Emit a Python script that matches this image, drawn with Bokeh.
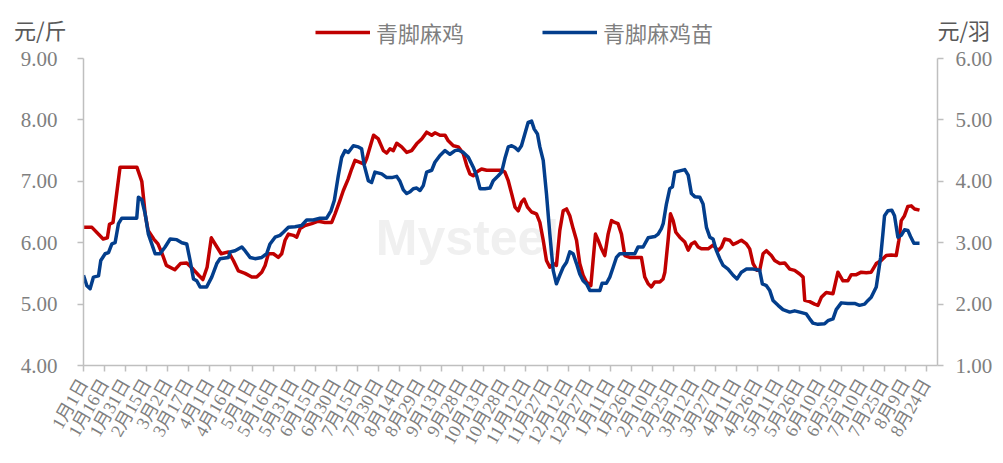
import math
from bokeh.plotting import figure
from bokeh.layouts import column
from bokeh.models import (Range1d, LinearAxis, FixedTicker, Legend, LegendItem,
                          Label, NumeralTickFormatter, ColumnDataSource)
from bokeh.embed import file_html
from bokeh.resources import INLINE

# ---------------- data ----------------
tick_labels = ["1月1日", "1月16日", "1月31日", "2月15日", "3月2日", "3月17日", "4月1日",
               "4月16日", "5月1日", "5月16日", "5月31日", "6月15日", "6月30日", "7月15日",
               "7月30日", "8月14日", "8月29日", "9月13日", "9月28日", "10月13日", "10月28日",
               "11月12日", "11月27日", "12月12日", "12月27日", "1月11日", "1月26日", "2月10日",
               "2月25日", "3月12日", "3月27日", "4月11日", "4月26日", "5月11日", "5月26日",
               "6月10日", "6月25日", "7月10日", "7月25日", "8月9日", "8月24日"]
tick_step = 15  # days between labels

series_names = ["青脚麻鸡", "青脚麻鸡苗"]

# 青脚麻鸡 (元/斤), day index since 1月1日
red_days = [0, 6, 14, 17, 18.5, 21, 26, 38, 41.5, 44, 46, 50, 53, 56, 59, 65, 69, 73.5, 78,
            82, 85, 88, 91, 95, 98, 103.2, 106.7, 110.3, 115, 119.8, 123.3, 126.9, 129.3,
            131.6, 135.2, 138.7, 141.1, 143.5, 145.9, 149.4, 151.8, 154.2, 157.7, 162.5,
            167.2, 171.9, 176.7, 179.1, 182.6, 185, 188.5, 190.9, 193.3, 196.8, 199.9, 201.6,
            204, 206.5, 209.9, 213.5, 215.9, 218.2, 220.6, 223, 226.5, 230.1, 233.6, 237.2,
            240.8, 244.3, 247.9, 250.2, 253.8, 257.4, 259.7, 263.3, 266.8, 270.4, 272.8,
            275.1, 277.5, 279.9, 283.4, 287, 291.7, 297.7, 300, 302.4, 304.8, 307.2, 309.5,
            311.8, 313.7, 316.1, 319, 322.5, 324.9, 327.3, 329.6, 332, 334.4, 336.7, 339.1,
            341.5, 343.9, 346.2, 348.6, 351, 353.3, 355.7, 358.1, 361.2, 362.8, 364.5, 366.4,
            368.8, 371.1, 373.5, 375.9, 378.2, 380.6, 383, 385.4, 388.9, 393.7, 397.2, 399.6,
            402, 404.3, 406.7, 410.3, 412.6, 413.9, 416.2, 417.9, 419.8, 421.7, 424.5, 428.1,
            430.5, 432.8, 435.2, 437.6, 439.9, 444.7, 448.2, 451.8, 454.2, 456.5, 460.1,
            462.5, 466, 468.4, 472, 474.3, 476.7, 479.5, 481.4, 483.8, 486.2, 489.7, 492.1,
            495.7, 499.2, 502.8, 506.3, 509.9, 512.3, 513.5, 517, 520.5, 522.9, 525.3, 528.8,
            533.6, 537.1, 540.7, 544.2, 546.6, 550.2, 553.7, 557.3, 560.8, 564.4, 567.9,
            571.5, 575.1, 578.6, 580.5, 582.2, 584.5, 586.9, 589.3, 591.7, 595.2]
red_price = [6.25, 6.25, 6.06, 6.08, 6.30, 6.33, 7.23, 7.23, 7.00, 6.45, 6.20, 6.06, 5.98, 5.82,
             5.63, 5.56, 5.66, 5.67, 5.57, 5.47, 5.40, 5.60, 6.08, 5.93, 5.82, 5.85, 5.71,
             5.54, 5.50, 5.44, 5.44, 5.52, 5.63, 5.82, 5.82, 5.76, 5.82, 6.04, 6.14, 6.12,
             6.09, 6.23, 6.28, 6.31, 6.35, 6.33, 6.33, 6.47, 6.69, 6.85, 7.04, 7.20, 7.34,
             7.31, 7.28, 7.37, 7.56, 7.75, 7.69, 7.50, 7.46, 7.53, 7.50, 7.62, 7.56, 7.47,
             7.50, 7.61, 7.69, 7.80, 7.75, 7.79, 7.75, 7.75, 7.66, 7.58, 7.56, 7.45, 7.26,
             7.12, 7.09, 7.15, 7.20, 7.18, 7.18, 7.18, 7.15, 7.01, 6.80, 6.58, 6.52, 6.66,
             6.71, 6.58, 6.50, 6.47, 6.33, 6.04, 5.71, 5.60, 5.66, 5.63, 6.20, 6.52, 6.55,
             6.44, 6.23, 6.04, 5.66, 5.47, 5.36, 5.30, 5.71, 6.14, 6.04, 5.90, 5.79, 6.14,
             6.36, 6.33, 6.31, 6.14, 5.79, 5.76, 5.76, 5.76, 5.44, 5.33, 5.28, 5.36, 5.36,
             5.41, 5.52, 6.04, 6.47, 6.36, 6.17, 6.09, 6.01, 5.88, 5.98, 6.01, 5.93, 5.90,
             5.90, 5.96, 5.87, 5.93, 6.06, 6.04, 5.97, 6.01, 6.04, 5.98, 5.90, 5.66, 5.55,
             5.55, 5.82, 5.87, 5.79, 5.71, 5.66, 5.67, 5.57, 5.55, 5.49, 5.44, 5.06, 5.04,
             5.00, 4.98, 5.11, 5.19, 5.17, 5.52, 5.38, 5.38, 5.48, 5.48, 5.52, 5.51, 5.52,
             5.66, 5.71, 5.79, 5.80, 5.79, 6.04, 6.36, 6.44, 6.59, 6.60, 6.55, 6.53]

# 青脚麻鸡苗 (元/羽)
blue_days = [0, 2.4, 4.7, 7.1, 10.7, 12.3, 15.4, 17.8, 20.2, 22.5, 24.9, 27.3, 37.9, 39.1, 41.5,
             43.9, 46.2, 48.6, 51, 54.5, 58.1, 61.7, 66.4, 70, 73.5, 75.9, 78.3, 80.6, 83,
             87.7, 91.3, 94.9, 97.2, 103.2, 104.4, 107.9, 112.7, 115, 118.6, 122.1, 126.9,
             130.4, 132.8, 136.4, 139.9, 142.3, 145.9, 150.6, 155.3, 158.9, 163.6, 168.4,
             173.1, 176.2, 178.6, 181.4, 183.8, 186.2, 188.5, 192.1, 195.7, 198, 199.9, 202.8,
             205.1, 207.5, 212.3, 215.9, 219.4, 223, 225.3, 227.7, 230.1, 232.5, 234.8, 237.2,
             239.6, 241.9, 244.3, 247.9, 250.2, 253.8, 257.4, 260.9, 264.5, 266.8, 270.4, 274,
             277.5, 279.9, 282.3, 285.8, 289.4, 291.7, 295.3, 297.7, 300, 302.4, 304.8, 307.2,
             309.5, 311.8, 314.2, 316.6, 319, 320.9, 323.2, 324.9, 327.3, 329.6, 332, 334.4,
             336.7, 339.1, 341.5, 343.9, 346.2, 348.6, 351, 353.3, 355.7, 358.1, 360.5, 367.6,
             369.2, 372.3, 374.7, 377.1, 379.4, 381.8, 392.5, 394.8, 398.4, 402, 406.7, 409.1,
             411.4, 412.7, 415, 417.4, 419.3, 421, 424.5, 428.1, 430.5, 432.8, 435.2, 438.8,
             441.1, 443.5, 445.9, 448.2, 450.6, 453, 455.4, 458.9, 462.5, 465.3, 468.4, 472,
             476.7, 481.4, 483.3, 486.2, 488.6, 490.9, 494.5, 498, 502.8, 506.3, 509.9, 514.6,
             517, 519.3, 522.9, 527.6, 530, 533.6, 535.9, 539.5, 544.2, 549, 552.5, 556.1,
             558.5, 560.8, 564.4, 567.5, 569.1, 570.3, 572.7, 575.5, 577.4, 579.8, 582.2,
             584.5, 586.9, 588.8, 591.2, 595.2]
blue_price = [2.47, 2.30, 2.25, 2.44, 2.46, 2.71, 2.82, 2.84, 2.98, 3.00, 3.31, 3.40, 3.40, 3.74,
              3.70, 3.47, 3.14, 2.98, 2.82, 2.82, 2.93, 3.06, 3.05, 3.00, 2.98, 2.71, 2.41,
              2.38, 2.28, 2.28, 2.44, 2.66, 2.74, 2.76, 2.85, 2.87, 2.93, 2.87, 2.76, 2.74,
              2.76, 2.82, 2.98, 3.09, 3.12, 3.17, 3.25, 3.26, 3.28, 3.37, 3.37, 3.40, 3.40,
              3.52, 3.69, 4.09, 4.39, 4.50, 4.47, 4.58, 4.56, 4.53, 4.26, 4.01, 3.98, 4.15,
              4.12, 4.06, 4.06, 4.08, 4.00, 3.86, 3.80, 3.83, 3.88, 3.89, 3.85, 3.93, 4.15,
              4.18, 4.31, 4.42, 4.50, 4.44, 4.50, 4.51, 4.47, 4.39, 4.23, 4.09, 3.88, 3.88,
              3.89, 4.01, 4.09, 4.15, 4.37, 4.56, 4.58, 4.55, 4.50, 4.58, 4.77, 4.96, 4.98,
              4.85, 4.77, 4.56, 4.34, 3.80, 3.14, 2.55, 2.33, 2.47, 2.60, 2.68, 2.85, 2.82,
              2.66, 2.49, 2.38, 2.33, 2.22, 2.22, 2.34, 2.34, 2.44, 2.60, 2.76, 2.82, 2.82,
              2.93, 2.93, 3.08, 3.10, 3.14, 3.23, 3.31, 3.63, 3.88, 3.91, 4.15, 4.17, 4.19,
              4.10, 3.80, 3.75, 3.74, 3.63, 3.25, 3.09, 3.06, 2.87, 2.74, 2.63, 2.57, 2.47,
              2.41, 2.52, 2.57, 2.57, 2.55, 2.33, 2.30, 2.22, 2.06, 1.98, 1.91, 1.87, 1.89,
              1.87, 1.84, 1.76, 1.69, 1.67, 1.68, 1.73, 1.76, 1.91, 2.02, 2.01, 2.01, 1.98,
              2.00, 2.06, 2.11, 2.28, 2.76, 3.14, 3.44, 3.52, 3.53, 3.44, 3.09, 3.12, 3.21,
              3.20, 3.10, 2.99, 2.99]

left_unit = "元/斤"
right_unit = "元/羽"

# ---------------- styling ----------------
RED = "#C00000"
BLUE = "#033E8C"
AXIS_GRAY = "#BFBFBF"
LABEL_GRAY = "#7F7F7F"
SERIF = "Liberation Serif, Noto Sans CJK SC"
CJK = "Noto Sans CJK SC"
W = 995
HEAD_H = 48

src_red = ColumnDataSource(dict(x=red_days, y=red_price))
src_blue = ColumnDataSource(dict(x=blue_days, y=blue_price))

# ---------- header (legend + unit labels) ----------
# y range of the header lies far above the data, so its lines serve only the legend
head = figure(width=W, height=HEAD_H, output_backend="svg", toolbar_location=None,
              x_range=Range1d(0, 608), y_range=Range1d(100, 148),
              x_axis_location=None, min_border=0)
head.outline_line_color = None
head.xgrid.visible = False
head.ygrid.visible = False
h_red = head.line("x", "y", source=src_red, line_color=RED, line_width=3.5)
h_blue = head.line("x", "y", source=src_blue, line_color=BLUE, line_width=3.5)

def unit_axis(ax, standoff):
    ax.ticker = FixedTicker(ticks=[120])
    ax.axis_line_color = None
    ax.major_tick_line_color = None
    ax.minor_tick_line_color = None
    ax.major_tick_out = 0
    ax.major_tick_in = 0
    ax.major_label_standoff = standoff
    ax.major_label_text_font = CJK
    ax.major_label_text_font_size = "22px"
    ax.major_label_text_color = "#595959"

hl = head.yaxis[0]
unit_axis(hl, 17)
hl.major_label_overrides = {120: left_unit}
hr = LinearAxis()
unit_axis(hr, 0)
hr.major_label_overrides = {120: right_unit}
head.add_layout(hr, "right")

legend = Legend(items=[LegendItem(label=series_names[0], renderers=[h_red]),
                       LegendItem(label=series_names[1], renderers=[h_blue])],
                location=(232, 0), orientation="horizontal",
                label_text_font=CJK, label_text_font_size="22px", label_text_color="#7F7F7F",
                glyph_width=55, glyph_height=20, label_standoff=6, spacing=78,
                padding=0, margin=0, border_line_color=None, background_fill_alpha=0)
head.add_layout(legend)

# ---------- main chart ----------
p = figure(width=W, height=407, output_backend="svg", toolbar_location=None,
           x_range=Range1d(0, 608), y_range=Range1d(4, 9),
           min_border_left=83, min_border_right=57, min_border_top=10, min_border_bottom=90)
p.extra_y_ranges = {"right": Range1d(1, 6)}
p.outline_line_color = None
p.xgrid.visible = False
p.ygrid.visible = False

# watermark (beneath data)
p.add_layout(Label(x=384, y=128, x_units="screen", y_units="screen", text="Mysteel",
                   text_font="Liberation Sans", text_font_size="50px", text_font_style="bold",
                   text_color="#F0F0F0", text_align="center", text_baseline="middle",
                   level="underlay"))

p.line("x", "y", source=src_red, line_color=RED, line_width=3.5, line_join="round")
p.line("x", "y", source=src_blue, line_color=BLUE, line_width=3.5, line_join="round",
       y_range_name="right")

def style_axis(ax):
    ax.axis_line_color = AXIS_GRAY
    ax.axis_line_width = 1.5
    ax.major_tick_line_color = AXIS_GRAY
    ax.major_tick_line_width = 1.5
    ax.minor_tick_line_color = None
    ax.major_tick_in = 0
    ax.major_tick_out = 6
    ax.major_label_text_color = LABEL_GRAY
    ax.major_label_text_font = SERIF

# x axis
xa = p.xaxis[0]
style_axis(xa)
ticks = [i * tick_step for i in range(len(tick_labels))]
xa.ticker = FixedTicker(ticks=ticks)
xa.major_label_overrides = {t: lab for t, lab in zip(ticks, tick_labels)}
xa.major_label_orientation = math.radians(60)
xa.major_label_text_font_size = "18px"
xa.major_label_standoff = 9

# left axis
ya = p.yaxis[0]
style_axis(ya)
ya.ticker = FixedTicker(ticks=[4, 5, 6, 7, 8, 9])
ya.formatter = NumeralTickFormatter(format="0.00")
ya.major_label_text_font_size = "21px"
ya.major_label_standoff = 20

# right axis
ra = LinearAxis(y_range_name="right")
style_axis(ra)
ra.ticker = FixedTicker(ticks=[1, 2, 3, 4, 5, 6])
ra.formatter = NumeralTickFormatter(format="0.00")
ra.major_label_text_font_size = "21px"
ra.major_label_standoff = 12
p.add_layout(ra, "right")

open("out.html", "w").write(file_html(column(head, p), INLINE))
